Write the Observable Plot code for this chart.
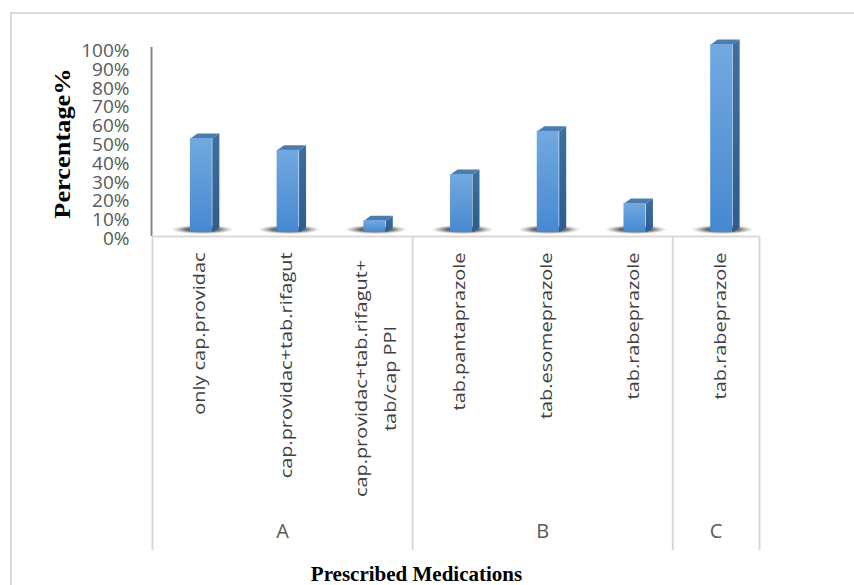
<!DOCTYPE html>
<html><head><meta charset="utf-8">
<script src="https://cdn.jsdelivr.net/npm/d3@7"></script>
<script src="https://cdn.jsdelivr.net/npm/@observablehq/plot@0.6"></script>
<style>body{margin:0;background:#fff;}</style>
</head><body><div id="chart"></div>
<script>
// ---- data ----
const categories = [
  "only cap.providac",
  "cap.providac+tab.rifagut",
  "cap.providac+tab.rifagut+\ntab/cap PPI",
  "tab.pantaprazole",
  "tab.esomeprazole",
  "tab.rabeprazole",
  "tab.rabeprazole"
];
const groups = ["A", "A", "A", "B", "B", "B", "C"];
const percentages = [50, 43.75, 6.25, 30.8, 53.8, 15.4, 100];
const yTicks = [0, 10, 20, 30, 40, 50, 60, 70, 80, 90, 100];
const yTickLabels = ["0%", "10%", "20%", "30%", "40%", "50%", "60%", "70%", "80%", "90%", "100%"];
const yTitle = "Percentage%";
const xTitle = "Prescribed Medications";

// ---- derived tables ----
const data = categories.map((label, i) => ({i, label, group: groups[i], value: percentages[i]}));
const groupNames = [...new Set(groups)];
const groupCenters = groupNames.map(g => ({group: g, center: d3.mean(data.filter(d => d.group === g), d => d.i)}));
const boundaries = [-0.5];
for (let i = 1; i < groups.length; i++) if (groups[i] !== groups[i - 1]) boundaries.push(i - 0.5);
boundaries.push(groups.length - 0.5);

// 3D bar geometry (style constants, in scale units)
const F1 = -0.063, F2 = 0.19, DX = 0.081, DY = 2.66;
const sides = data.flatMap(d => [
  {i: d.i, x: d.i + F2, y: 0}, {i: d.i, x: d.i + F2, y: d.value},
  {i: d.i, x: d.i + F2 + DX, y: d.value + DY}, {i: d.i, x: d.i + F2 + DX, y: DY}
]);
const tops = data.flatMap(d => [
  {i: d.i, x: d.i + F1, y: d.value}, {i: d.i, x: d.i + F2, y: d.value},
  {i: d.i, x: d.i + F2 + DX, y: d.value + DY}, {i: d.i, x: d.i + F1 + DX, y: d.value + DY}
]);

const defs = () => {
  const g = d3.create("svg:g");
  const df = g.append("defs");
  const fg = df.append("linearGradient").attr("id", "frontGrad").attr("x1", 0).attr("y1", 0).attr("x2", 0).attr("y2", 1);
  fg.append("stop").attr("offset", "0%").attr("stop-color", "#72a9e0");
  fg.append("stop").attr("offset", "100%").attr("stop-color", "#4689d1");
  const sg = df.append("linearGradient").attr("id", "sideGrad").attr("x1", 0).attr("y1", 0).attr("x2", 0).attr("y2", 1);
  sg.append("stop").attr("offset", "0%").attr("stop-color", "#3f6f9f");
  sg.append("stop").attr("offset", "100%").attr("stop-color", "#2c5d8e");
  const rg = df.append("radialGradient").attr("id", "shadowGrad");
  rg.append("stop").attr("offset", "0%").attr("stop-color", "#222").attr("stop-opacity", 1);
  rg.append("stop").attr("offset", "55%").attr("stop-color", "#3a3a3a").attr("stop-opacity", 0.7);
  rg.append("stop").attr("offset", "100%").attr("stop-color", "#888").attr("stop-opacity", 0);
  g.append("rect").attr("x", 11).attr("y", 13).attr("width", 900).attr("height", 700)
    .attr("fill", "none").attr("stroke", "#d9d9d9").attr("stroke-width", 2);
  return g.node();
};

const plot = Plot.plot({
  width: 854,
  height: 585,
  marginLeft: 152,
  marginRight: 95,
  marginTop: 44,
  marginBottom: 353,
  x: {type: "linear", domain: [-0.5, 6.5], axis: null},
  y: {type: "linear", domain: [0, 100], axis: null},
  marks: [
    defs,
    // axis line
    Plot.ruleX([-0.5], {y1: 0, y2: 100, insetTop: 4, insetBottom: -3, dx: -1, stroke: "#868686", strokeWidth: 2}),
    // category table
    Plot.ruleY([0], {x1: -0.5, x2: 6.5, dy: 4, stroke: "#d9d9d9", strokeWidth: 2}),
    Plot.ruleX(boundaries, {y1: 0, y2: 0, insetTop: 4, insetBottom: -318, stroke: "#d9d9d9", strokeWidth: 2}),
    // shadows
    Plot.rect(data, {x1: d => d.i + 0.08 - 0.36, x2: d => d.i + 0.08 + 0.36, y1: 0, y2: 0, insetTop: -7, insetBottom: -2, fill: "url(#shadowGrad)"}),
    // bars
    Plot.line(sides, {x: "x", y: "y", z: "i", fill: "url(#sideGrad)", stroke: "none"}),
    Plot.line(tops, {x: "x", y: "y", z: "i", fill: "#4b7cb0", stroke: "none"}),
    Plot.rect(data, {x1: d => d.i + F1, x2: d => d.i + F2, y1: 0, y2: "value", fill: "url(#frontGrad)"}),
    // y tick labels
    Plot.text(yTicks, {x: -0.5, y: d => d, text: (d, k) => yTickLabels[k], textAnchor: "end", dx: -23, dy: 6.4,
      fontSize: 19, fontFamily: "Open Sans", fill: "#595959"}),
    // y title
    Plot.text([yTitle], {frameAnchor: "left", text: d => d, rotate: -90, textAnchor: "middle", lineAnchor: "middle",
      dx: -90, dy: 5, fontSize: 24, fontFamily: "Liberation Serif", fontWeight: "bold", fill: "#000"}),
    // category labels
    Plot.text(data.filter(d => !d.label.includes("\n")), {x: "i", frameAnchor: "bottom", text: "label", rotate: -90,
      textAnchor: "end", lineAnchor: "middle", dx: 4, dy: 20, fontSize: 17, fontFamily: "Open Sans", fill: "#404040"}),
    Plot.text(data.filter(d => d.label.includes("\n")), {x: "i", frameAnchor: "bottom", text: "label", rotate: -90,
      textAnchor: "middle", lineAnchor: "middle", lineHeight: 1.7, dx: 3, dy: 146, fontSize: 17, fontFamily: "Open Sans", fill: "#404040"}),
    // group labels
    Plot.text(groupCenters, {x: "center", frameAnchor: "bottom", text: "group", dy: 305,
      fontSize: 20, fontFamily: "Open Sans", fill: "#595959"}),
    // x title
    Plot.text([xTitle], {frameAnchor: "bottom", text: d => d, dx: -39.5, dy: 348,
      fontSize: 21, fontFamily: "Liberation Serif", fontWeight: "bold", fill: "#000"})
  ]
});
// stretch rotated labels along their length to match the reference proportions
d3.select(plot).selectAll("text")
  .filter(function() { return (this.getAttribute("transform") || "").includes("rotate(-90)"); })
  .attr("transform", function() {
    const s = this.textContent === yTitle ? 1.1 : 1.17;
    return this.getAttribute("transform") + ` scale(${s},1)`;
  });
document.getElementById("chart").appendChild(plot);
</script>
</body></html>
